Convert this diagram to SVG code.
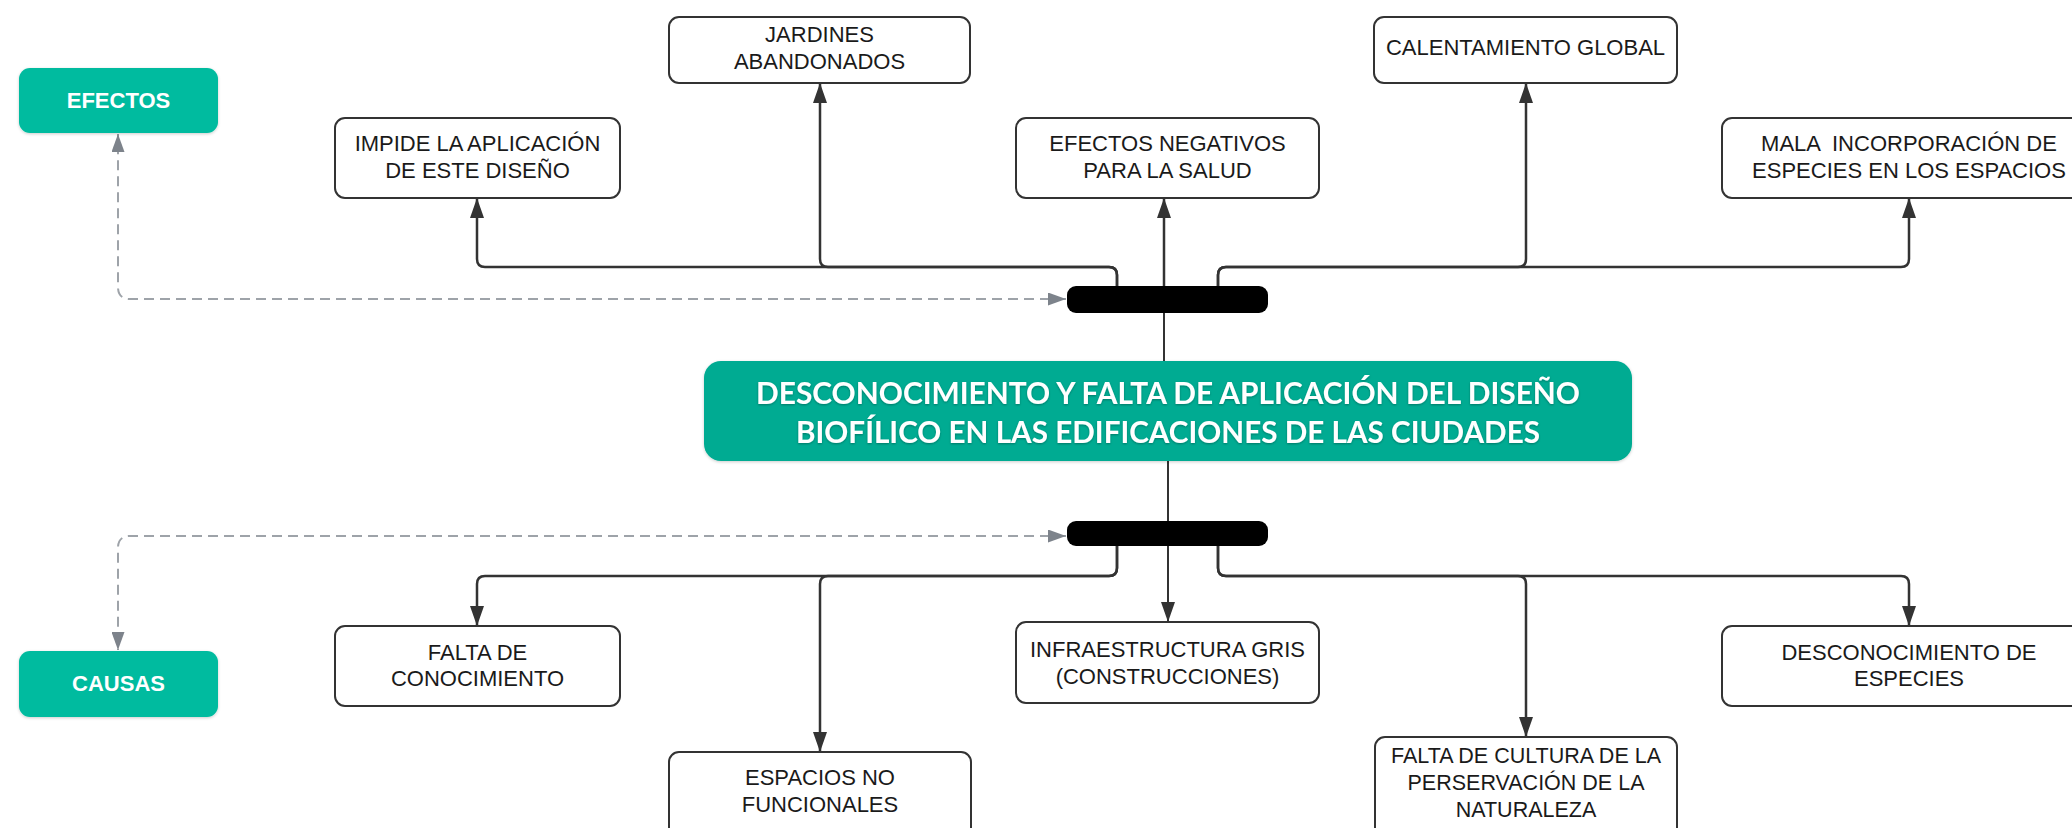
<svg xmlns="http://www.w3.org/2000/svg" width="2072" height="828" viewBox="0 0 2072 828">
  <style>
    .box { fill: #ffffff; stroke: #333333; stroke-width: 2; }
    .lbl { font-family: "Liberation Sans", Arial, sans-serif; font-size: 22px; fill: #1a1a1a; text-anchor: middle; }
    .tag { fill: #00bb9f; }
    .tagt { font-family: "Liberation Sans", Arial, sans-serif; font-size: 22px; font-weight: bold; fill: #ffffff; text-anchor: middle; }
    .main { fill: #02ab92; }
    .maint { font-family: Lato, "Open Sans", sans-serif; font-size: 31px; font-weight: bold; fill: #ffffff; text-anchor: middle; }
    .bar { fill: #000000; }
    .edge { fill: none; stroke: #333333; stroke-width: 2.5; }
    .dash { fill: none; stroke: #9ea3a9; stroke-width: 2; stroke-dasharray: 10 6; }
  </style>
  <defs>
    <marker id="arr" markerUnits="userSpaceOnUse" viewBox="0 0 20 14" refX="20" refY="7" markerWidth="20" markerHeight="14" orient="auto">
      <path d="M0,0 L20,7 L0,14 z" fill="#333333"/>
    </marker>
    <marker id="garr" markerUnits="userSpaceOnUse" viewBox="0 0 18 13" refX="18" refY="6.5" markerWidth="18" markerHeight="13" orient="auto-start-reverse">
      <path d="M0,0 L18,6.5 L0,13 z" fill="#7d838b"/>
    </marker>
    <filter id="sh" x="-10%" y="-20%" width="120%" height="140%">
      <feDropShadow dx="0" dy="1" stdDeviation="1.5" flood-color="#000000" flood-opacity="0.2"/>
    </filter>
    <filter id="tsh" x="-5%" y="-20%" width="110%" height="140%">
      <feDropShadow dx="0" dy="1" stdDeviation="1" flood-color="#000000" flood-opacity="0.3"/>
    </filter>
  </defs>

  <g id="connectors">
    <path class="edge" d="M1117,286 V275 Q1117,267 1109,267 H485 Q477,267 477,259 V198" marker-end="url(#arr)"/>
    <path class="edge" d="M1117,286 V275 Q1117,267 1109,267 H828 Q820,267 820,259 V83" marker-end="url(#arr)"/>
    <path class="edge" d="M1164,286 V198" marker-end="url(#arr)"/>
    <path class="edge" d="M1218,286 V275 Q1218,267 1226,267 H1518 Q1526,267 1526,259 V83" marker-end="url(#arr)"/>
    <path class="edge" d="M1218,286 V275 Q1218,267 1226,267 H1901 Q1909,267 1909,259 V198" marker-end="url(#arr)"/>
    <path class="edge" style="stroke-width:2" d="M1164,313 V361"/>
    <path class="edge" style="stroke-width:2" d="M1168,461 V521"/>
    <path class="edge" style="stroke-width:2" d="M1168,546 V622" marker-end="url(#arr)"/>
    <path class="edge" d="M1117,546 V568 Q1117,576 1109,576 H485 Q477,576 477,584 V626" marker-end="url(#arr)"/>
    <path class="edge" d="M1117,546 V568 Q1117,576 1109,576 H828 Q820,576 820,584 V752" marker-end="url(#arr)"/>
    <path class="edge" d="M1218,546 V568 Q1218,576 1226,576 H1518 Q1526,576 1526,584 V737" marker-end="url(#arr)"/>
    <path class="edge" d="M1218,546 V568 Q1218,576 1226,576 H1901 Q1909,576 1909,584 V626" marker-end="url(#arr)"/>
    <path class="dash" d="M1066,299 H130 Q118,299 118,287 V134" marker-start="url(#garr)" marker-end="url(#garr)"/>
    <path class="dash" d="M1066,536 H130 Q118,536 118,548 V650" marker-start="url(#garr)" marker-end="url(#garr)"/>
  </g>

  <g id="bar-efectos"><rect class="bar" x="1067" y="286" width="201" height="27" rx="9"/></g>
  <g id="bar-causas"><rect class="bar" x="1067" y="521" width="201" height="25" rx="9"/></g>

  <g id="efectos">
    <rect class="tag" x="19" y="68" width="199" height="65" rx="11" filter="url(#sh)"/>
    <text class="tagt" x="118.5" y="108">EFECTOS</text>
  </g>
  <g id="causas">
    <rect class="tag" x="19" y="651" width="199" height="66" rx="11" filter="url(#sh)"/>
    <text class="tagt" x="118.5" y="691">CAUSAS</text>
  </g>

  <g id="problema">
    <rect class="main" x="704" y="361" width="928" height="100" rx="17" filter="url(#sh)"/>
    <text class="maint" filter="url(#tsh)"><tspan x="1168" y="404" textLength="824" lengthAdjust="spacingAndGlyphs">DESCONOCIMIENTO Y FALTA DE APLICACIÓN DEL DISEÑO</tspan><tspan x="1168" y="443" textLength="744" lengthAdjust="spacingAndGlyphs">BIOFÍLICO EN LAS EDIFICACIONES DE LAS CIUDADES</tspan></text>
  </g>

  <g id="impide">
    <rect class="box" x="335" y="118" width="285" height="80" rx="10"/>
    <text class="lbl"><tspan x="477.5" y="151">IMPIDE LA APLICACIÓN</tspan><tspan x="477.5" y="178">DE ESTE DISEÑO</tspan></text>
  </g>
  <g id="jardines">
    <rect class="box" x="669" y="17" width="301" height="66" rx="10"/>
    <text class="lbl"><tspan x="819.5" y="42">JARDINES</tspan><tspan x="819.5" y="69">ABANDONADOS</tspan></text>
  </g>
  <g id="salud">
    <rect class="box" x="1016" y="118" width="303" height="80" rx="10"/>
    <text class="lbl"><tspan x="1167.5" y="151">EFECTOS NEGATIVOS</tspan><tspan x="1167.5" y="178">PARA LA SALUD</tspan></text>
  </g>
  <g id="calentamiento">
    <rect class="box" x="1374" y="17" width="303" height="66" rx="10"/>
    <text class="lbl" x="1525.5" y="55">CALENTAMIENTO GLOBAL</text>
  </g>
  <g id="mala">
    <rect class="box" x="1722" y="118" width="374" height="80" rx="10"/>
    <text class="lbl" xml:space="preserve"><tspan x="1909" y="151">MALA  INCORPORACIÓN DE</tspan><tspan x="1909" y="178">ESPECIES EN LOS ESPACIOS</tspan></text>
  </g>

  <g id="falta-conocimiento">
    <rect class="box" x="335" y="626" width="285" height="80" rx="10"/>
    <text class="lbl"><tspan x="477.5" y="660">FALTA DE</tspan><tspan x="477.5" y="686">CONOCIMIENTO</tspan></text>
  </g>
  <g id="espacios">
    <rect class="box" x="669" y="752" width="302" height="90" rx="10"/>
    <text class="lbl"><tspan x="820" y="785">ESPACIOS NO</tspan><tspan x="820" y="812">FUNCIONALES</tspan></text>
  </g>
  <g id="infraestructura">
    <rect class="box" x="1016" y="622" width="303" height="81" rx="10"/>
    <text class="lbl"><tspan x="1167.5" y="657">INFRAESTRUCTURA GRIS</tspan><tspan x="1167.5" y="684">(CONSTRUCCIONES)</tspan></text>
  </g>
  <g id="cultura">
    <rect class="box" x="1375" y="737" width="302" height="110" rx="10"/>
    <text class="lbl" style="font-size:21.5px"><tspan x="1526" y="763">FALTA DE CULTURA DE LA</tspan><tspan x="1526" y="790">PERSERVACIÓN DE LA</tspan><tspan x="1526" y="817">NATURALEZA</tspan></text>
  </g>
  <g id="desconocimiento">
    <rect class="box" x="1722" y="626" width="374" height="80" rx="10"/>
    <text class="lbl"><tspan x="1909" y="660">DESCONOCIMIENTO DE</tspan><tspan x="1909" y="686">ESPECIES</tspan></text>
  </g>
</svg>
